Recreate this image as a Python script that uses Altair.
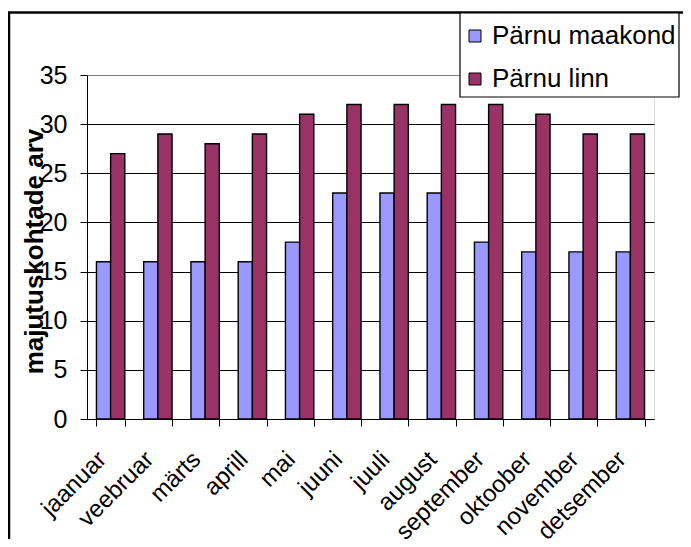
import altair as alt
import pandas as pd

months = ["jaanuar", "veebruar", "märts", "aprill", "mai", "juuni", "juuli",
          "august", "september", "oktoober", "november", "detsember"]
maakond = [16, 16, 16, 16, 18, 23, 23, 23, 18, 17, 17, 17]
linn = [27, 29, 28, 29, 31, 32, 32, 32, 32, 31, 29, 29]
series = ["Pärnu maakond", "Pärnu linn"]
colors = ["#9999FF", "#993366"]
y_ticks = [0, 5, 10, 15, 20, 25, 30, 35]

rows = []
for i, m in enumerate(months):
    rows.append({"kuu": m, "seeria": series[0], "arv": maakond[i]})
    rows.append({"kuu": m, "seeria": series[1], "arv": linn[i]})
df = pd.DataFrame(rows)

FONT = "Liberation Sans"

bars = alt.Chart(df).mark_bar(stroke="black", strokeWidth=1.4).encode(
    x=alt.X("kuu:N", sort=months,
            scale=alt.Scale(paddingInner=0.4, paddingOuter=0.2),
            axis=alt.Axis(title=None, labelAngle=315, labelAlign="right",
                          labelBaseline="top", labelFontSize=24,
                          labelOffset=-17, labelPadding=21, tickSize=7,
                          tickBand="extent", grid=False,
                          domainColor="black", tickColor="black",
                          labelColor="black", labelFont=FONT)),
    xOffset=alt.XOffset("seeria:N", sort=series),
    y=alt.Y("arv:Q", scale=alt.Scale(domain=[0, 35], nice=False),
            axis=alt.Axis(title="majutuskohtade arv", values=y_ticks,
                          labelFontSize=25, labelPadding=13, tickSize=7,
                          labelColor="black", labelFont=FONT,
                          domainColor="black", tickColor="black",
                          gridColor={"condition": {"test": "datum.value == 35", "value": "#808080"},
                                     "value": "black"},
                          gridOpacity=1,
                          titleFontSize=26, titleFontWeight="bold",
                          titleFont=FONT, titleColor="black",
                          titleAngle=270, titleAlign="center",
                          titleBaseline="alphabetic",
                          titleX=-45, titleY=176)),
    color=alt.Color("seeria:N", sort=series,
                    scale=alt.Scale(domain=series, range=colors),
                    legend=alt.Legend(title=None, orient="none",
                                      legendX=375, legendY=-52,
                                      padding=0, rowPadding=17,
                                      symbolType="square", symbolSize=144,
                                      symbolStrokeColor="black",
                                      symbolStrokeWidth=1,
                                      symbolOpacity=1,
                                      labelFontSize=26, labelFont=FONT,
                                      labelColor="black", labelOffset=4,
                                      labelLimit=0)),
)

border = alt.Chart(pd.DataFrame({"a": [0]})).mark_rect(
    filled=False, stroke="black", strokeWidth=2.5
).encode(
    x=alt.value(-78), x2=alt.value(700),
    y=alt.value(-62.5), y2=alt.value(700),
)

legend_box = alt.Chart(pd.DataFrame({"a": [0]})).mark_rect(
    fill="white", stroke="black", strokeWidth=1.2
).encode(
    x=alt.value(373), x2=alt.value(592),
    y=alt.value(-62), y2=alt.value(22),
)

chart = alt.layer(border, bars, legend_box).properties(
    width=567, height=344,
    autosize=alt.AutoSizeParams(type="none"),
    padding={"left": 79, "top": 67, "right": 29, "bottom": 120},
    background="white",
).configure_view(
    stroke="#808080", strokeWidth=1
).configure(font=FONT)

chart.save("out.html", embed_options={"renderer": "svg", "actions": False})
